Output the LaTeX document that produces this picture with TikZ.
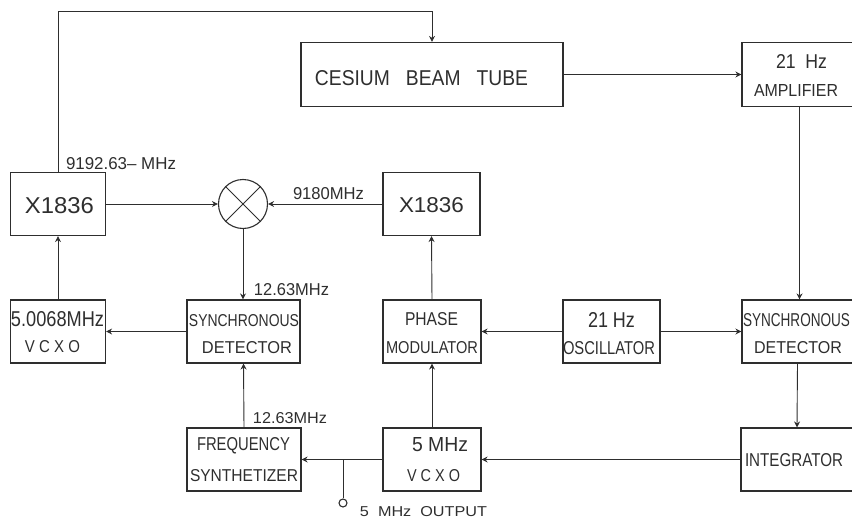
\documentclass[tikz,border=0pt]{standalone}
\usepackage{graphicx}
\usepackage{fontspec}
\setmainfont{Liberation Sans}
\usetikzlibrary{arrows.meta,positioning}
\newcommand{\fitlabel}[3]{\resizebox{#1pt}{#2pt}{#3}}

\begin{document}
\begin{tikzpicture}[x=1pt,y=-1pt,
  blockbox/.style={draw=black!82, line width=1.1pt, inner sep=0pt},
  lbl/.style={text=black!82, inner sep=0pt},
  wire/.style={draw=black!82, line width=0.9pt},
  flow/.style={wire, -{Stealth[length=6pt,width=6pt]}}
]
\useasboundingbox (0,0) rectangle (852,519);

\node[blockbox, minimum width=262pt, minimum height=64pt] (tube) at (432,74.5) {};
\node[blockbox, minimum width=111pt, minimum height=64pt] (amp) at (797.5,74.5) {};
\node[blockbox, minimum width=95pt, minimum height=63pt] (mulL) at (58,204) {};
\node[blockbox, minimum width=97pt, minimum height=63pt] (mulR) at (431.5,204) {};
\node[blockbox, circle, minimum size=49pt] (mixer) at (243,204) {};
\draw[wire] (mixer.north west) -- (mixer.south east);
\draw[wire] (mixer.north east) -- (mixer.south west);
\node[blockbox, minimum width=95pt, minimum height=63pt] (vcxoL) at (58,331.5) {};
\node[blockbox, minimum width=113pt, minimum height=63pt] (detL) at (243.5,331.5) {};
\node[blockbox, minimum width=98pt, minimum height=63pt] (phase) at (432,331.5) {};
\node[blockbox, minimum width=97pt, minimum height=63pt] (osc) at (611.5,331.5) {};
\node[blockbox, minimum width=111pt, minimum height=63pt] (detR) at (797.5,331.5) {};
\node[blockbox, minimum width=114pt, minimum height=63pt] (synth) at (244,459.5) {};
\node[blockbox, minimum width=98pt, minimum height=63pt] (vcxoM) at (432,459.5) {};
\node[blockbox, minimum width=112pt, minimum height=63pt] (integ) at (797,459.5) {};

\coordinate (topL) at (58,11);
\coordinate (topR) at (432,11);
\coordinate (tap) at (343,459.5);
\node[draw=black!82, line width=1.1pt, circle, minimum size=8pt, inner sep=0pt] (output) at (343,503) {};

\draw[flow] (mulL.north) -- (topL) -- (topR) -- (tube.north);
\draw[flow] (tube.east) -- (amp.west);
\draw[flow] ([xshift=2pt]amp.south) -- ([xshift=2pt]amp.south |- detR.north);
\draw[flow] (detR.south) -- (integ.north);
\draw[flow] (integ.west) -- (vcxoM.east);
\draw[flow] (vcxoM.west) -- (synth.east);
\draw[wire] (tap) -- (output);
\draw[flow] (vcxoM.north) -- (phase.south);
\draw[flow] (osc.west) -- (phase.east);
\draw[flow] (osc.east) -- (detR.west);
\draw[flow] (phase.north) -- (mulR.south);
\draw[flow] (mulR.west) -- (mixer.east);
\draw[flow] (mulL.east) -- (mixer.west);
\draw[flow] (mixer.south) -- (mixer.south |- detL.north);
\draw[flow] (synth.north) -- (detL.south);
\draw[flow] (detL.west) -- (vcxoL.east);
\draw[flow] (vcxoL.north) -- (mulL.south);

\node[lbl] (ttube) at (421.5,78.5) {\fitlabel{213}{15}{CESIUM\ \ \ BEAM\ \ \ TUBE}};
\node[lbl] (tampa) at (801.5,62) {\fitlabel{51}{14}{21\ \ Hz}};
\node[lbl] (tampb) at (796,90.5) {\fitlabel{84}{12}{AMPLIFIER}};
\node[lbl] (tmulL) at (59.5,206) {\fitlabel{69}{16}{X1836}};
\node[lbl] (tmulR) at (431.5,205.5) {\fitlabel{65}{15}{X1836}};
\node[lbl] (tvcxoLa) at (57.5,319.5) {\fitlabel{93}{15}{5.0068MHz}};
\node[lbl] (tvcxoLb) at (52.5,347) {\fitlabel{55}{12}{V C X O}};
\node[lbl] (tdetLa) at (244,321) {\fitlabel{110}{12}{SYNCHRONOUS}};
\node[lbl] (tdetLb) at (247,348) {\fitlabel{90}{12}{DETECTOR}};
\node[lbl] (tphasea) at (431.5,319.5) {\fitlabel{53}{13}{PHASE}};
\node[lbl] (tphaseb) at (432,348) {\fitlabel{92}{12}{MODULATOR}};
\node[lbl] (tosca) at (611.5,319.5) {\fitlabel{47}{15}{21 Hz}};
\node[lbl] (toscb) at (609,348.5) {\fitlabel{92}{13}{OSCILLATOR}};
\node[lbl] (tdetRa) at (796.5,320.5) {\fitlabel{107}{13}{SYNCHRONOUS}};
\node[lbl] (tdetRb) at (798,348) {\fitlabel{88}{12}{DETECTOR}};
\node[lbl] (tsyntha) at (243.5,445.5) {\fitlabel{93}{13}{FREQUENCY}};
\node[lbl] (tsynthb) at (244,476) {\fitlabel{108}{12}{SYNTHETIZER}};
\node[lbl] (tvcxoMa) at (440,445) {\fitlabel{56}{14}{5 MHz}};
\node[lbl] (tvcxoMb) at (433.5,476) {\fitlabel{53}{12}{V C X O}};
\node[lbl] (tinteg) at (794,460.5) {\fitlabel{98}{13}{INTEGRATOR}};
\node[lbl] (l9192) at (121,164) {\fitlabel{110}{12}{9192.63-- MHz}};
\node[lbl] (l9180) at (328.5,194) {\fitlabel{71}{12}{9180MHz}};
\node[lbl] (l1263a) at (291.5,289.5) {\fitlabel{75}{12}{12.63MHz}};
\node[lbl] (l1263b) at (290,418) {\fitlabel{74}{11}{12.63MHz}};
\node[lbl] (l5out) at (423.5,511.5) {\fitlabel{127}{10}{5\ \ MHz\ \ OUTPUT}};
\end{tikzpicture}
\end{document}
